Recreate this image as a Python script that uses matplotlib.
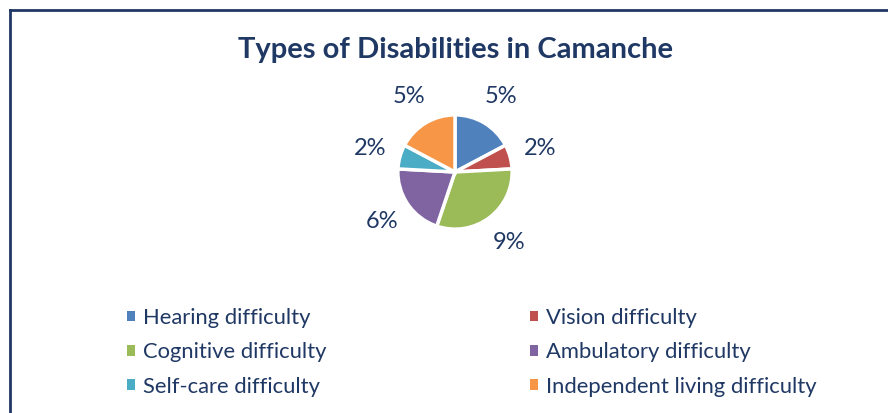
import matplotlib
matplotlib.use("Agg")
from matplotlib import pyplot as plt
from matplotlib.patches import Patch
from matplotlib.lines import Line2D

categories = ["Hearing difficulty", "Vision difficulty", "Cognitive difficulty",
              "Ambulatory difficulty", "Self-care difficulty", "Independent living difficulty"]
shares = [5, 2, 9, 6, 2, 5]
share_labels = ["5%", "2%", "9%", "6%", "2%", "5%"]
colors = ["#4F81BD", "#C0504D", "#9BBB59", "#8064A2", "#4BACC6", "#F79646"]

NAVY = "#1F3864"
W, H = 888, 413

plt.rcParams['font.family'] = ['Lato', 'DejaVu Sans']

fig = plt.figure(figsize=(W / 100, H / 100), dpi=100)

# pie axes: 200px square centred at (455, 172), radius 1 -> ~57px
cx, cy, size = 455, 172, 200
ax = fig.add_axes([(cx - size / 2) / W, 1 - (cy + size / 2) / H, size / W, size / H])
wedges, texts = ax.pie(shares, colors=colors, labels=share_labels, startangle=90,
                       counterclock=False, labeldistance=1.55,
                       wedgeprops=dict(edgecolor="white", linewidth=2.5),
                       textprops=dict(color=NAVY, fontsize=17))
for t in texts:
    t.set_ha("center")
    t.set_va("center")
ax.set_xlim(-1.75, 1.75)
ax.set_ylim(-1.75, 1.75)
ax.set_aspect("equal")
ax.axis("off")

fig.text(cx / W, 1 - 50 / H, "Types of Disabilities in Camanche", ha="center", va="center",
         fontsize=21, fontweight="bold", color=NAVY)

# legend laid out row by row like the original
order = [0, 2, 4, 1, 3, 5]
handles = [Patch(facecolor=colors[i], edgecolor="none") for i in order]
fig.legend(handles, [categories[i] for i in order], ncol=2, loc="upper left",
           bbox_to_anchor=(127 / W, 1 - 308 / H), frameon=False, borderpad=0,
           borderaxespad=0, fontsize=15.8, labelcolor=NAVY, handlelength=0.37,
           handleheight=0.37, handletextpad=0.37, columnspacing=9.25, labelspacing=0.65)

# chart frame (top and left edges visible)
fig.add_artist(Line2D([10 / W, 1], [1 - 10 / H, 1 - 10 / H], transform=fig.transFigure,
                      color=NAVY, linewidth=2))
fig.add_artist(Line2D([10 / W, 10 / W], [1 - 10 / H, 0], transform=fig.transFigure,
                      color=NAVY, linewidth=2))

fig.savefig("out.png", dpi=100)
